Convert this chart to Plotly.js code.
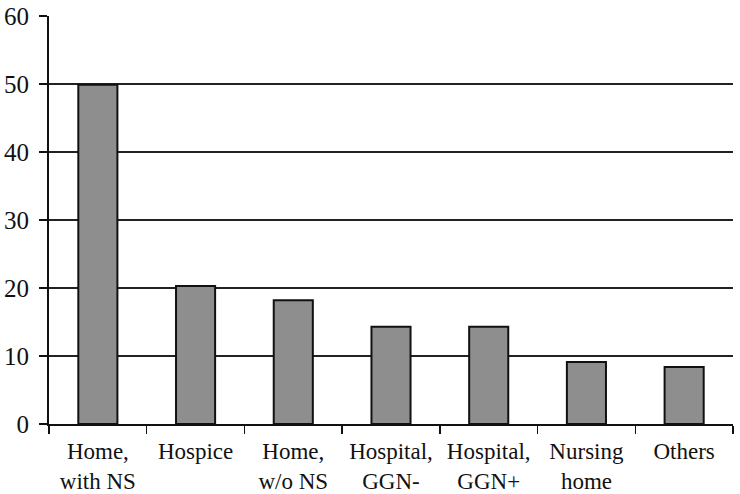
<!DOCTYPE html>
<html>
<head>
<meta charset="utf-8">
<script src="https://cdn.plot.ly/plotly-3.0.1.min.js"></script>
<style>
  html, body { margin: 0; padding: 0; background: #fff; }
  #chart { width: 740px; height: 494px; }
</style>
</head>
<body>
<div id="chart"></div>
<script>
// Place of death categories and percentages
const categories = ['Home,<br>with NS', 'Hospice', 'Home,<br>w/o NS', 'Hospital,<br>GGN-', 'Hospital,<br>GGN+', 'Nursing<br>home', 'Others'];
const percentages = [49.9, 20.3, 18.2, 14.3, 14.3, 9.1, 8.4];
const yTicks = [0, 10, 20, 30, 40, 50, 60];

const serif = 'Times New Roman';

const data = [{
  type: 'bar',
  x: categories,
  y: percentages,
  marker: {
    color: '#8e8e8e',
    line: { color: '#111', width: 2 }
  },
  hoverinfo: 'none'
}];

const layout = {
  width: 740,
  height: 494,
  margin: { l: 49, r: 7, t: 16, b: 70 },
  paper_bgcolor: '#fff',
  plot_bgcolor: '#fff',
  showlegend: false,
  bargap: 0.6,
  font: { family: serif, color: '#111', size: 21 },
  xaxis: {
    type: 'category',
    tickson: 'boundaries',
    ticks: 'outside',
    ticklen: 8,
    tickwidth: 1.5,
    tickcolor: '#111',
    showline: true,
    linecolor: '#111',
    linewidth: 2,
    showgrid: false,
    ticklabelstandoff: 5,
    tickfont: { family: serif, size: 23, color: '#111' },
    fixedrange: true
  },
  yaxis: {
    range: [0, 60],
    tickvals: yTicks,
    ticktext: yTicks.map(String),
    ticks: 'outside',
    ticklen: 8,
    tickwidth: 1.5,
    tickcolor: '#111',
    showline: true,
    linecolor: '#111',
    linewidth: 2,
    showgrid: true,
    gridcolor: '#222',
    gridwidth: 1.8,
    zeroline: false,
    ticklabelstandoff: 5,
    tickfont: { family: serif, size: 25, color: '#111' },
    fixedrange: true
  }
};

Plotly.newPlot('chart', data, layout, { displayModeBar: false, staticPlot: true });
</script>
</body>
</html>
